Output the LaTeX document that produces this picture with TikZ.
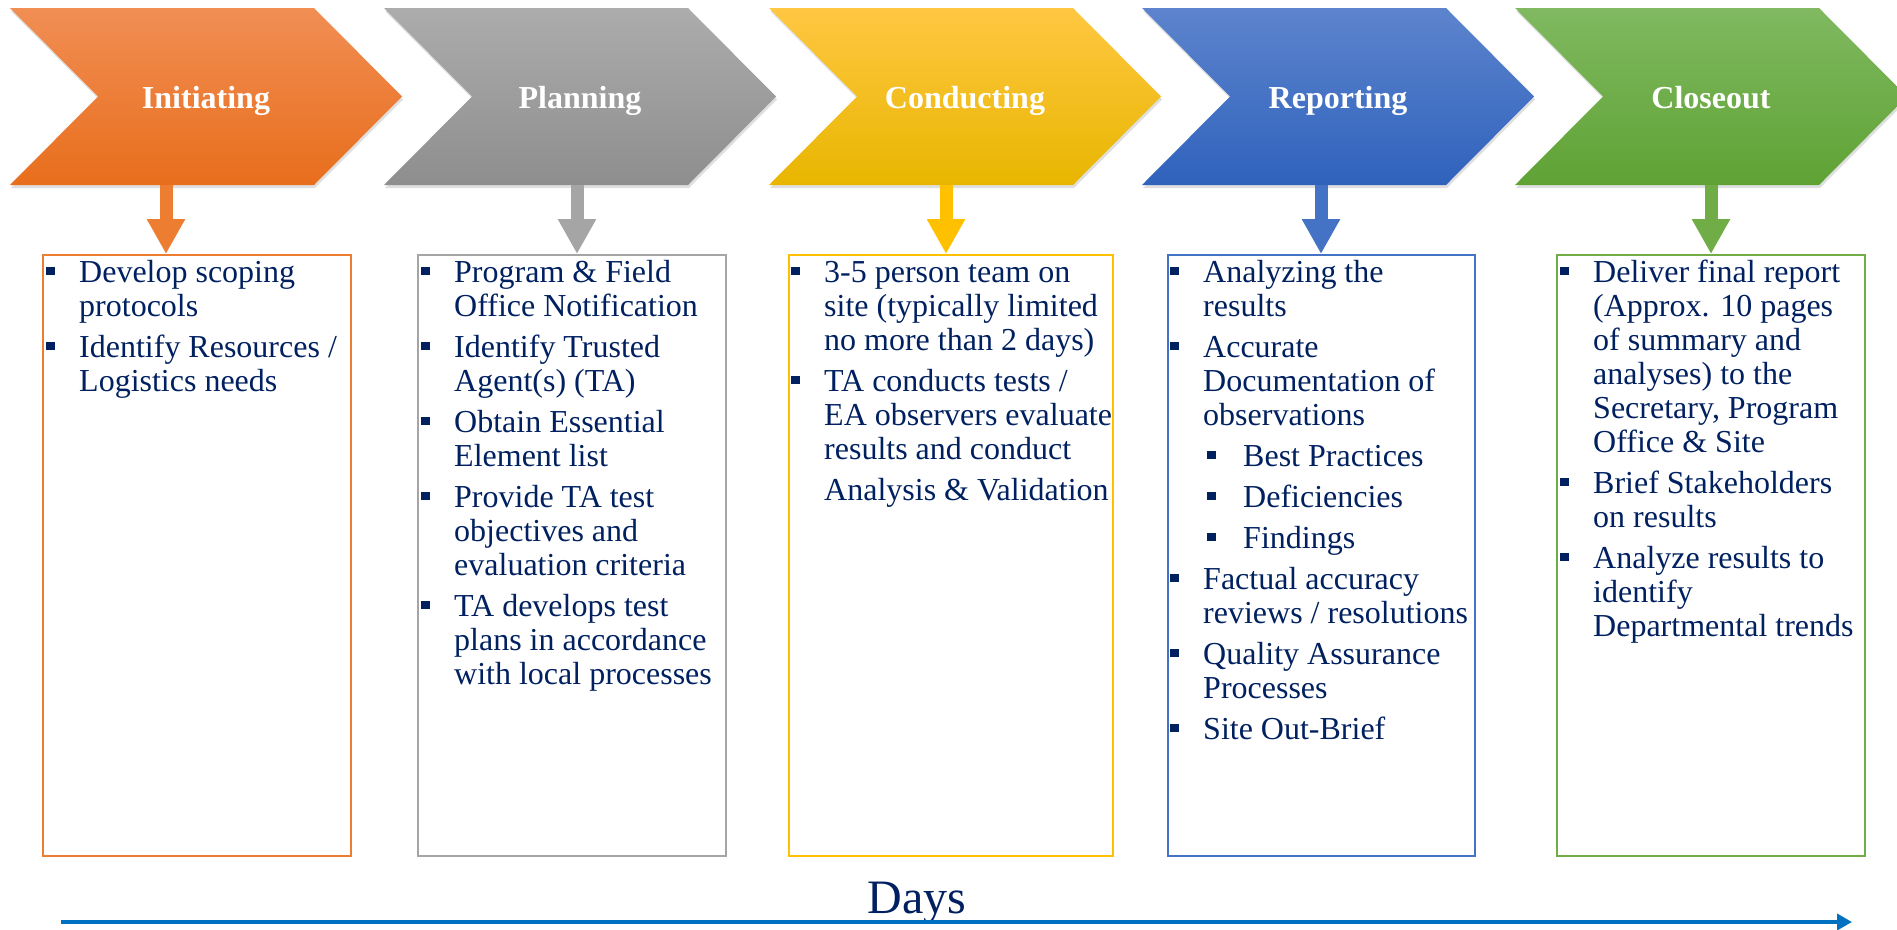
\documentclass[tikz,border=0pt]{standalone}
\usepackage{fontspec}
\setmainfont{Liberation Serif}
\usetikzlibrary{arrows.meta,shadows,calc}
\definecolor{navy}{RGB}{0,32,96}
\definecolor{orA}{RGB}{237,125,49}
\definecolor{grA}{RGB}{165,165,165}
\definecolor{goA}{RGB}{255,192,0}
\definecolor{blA}{RGB}{68,114,196}
\definecolor{gnA}{RGB}{112,173,71}
\definecolor{orT}{RGB}{241,142,84}\definecolor{orB}{RGB}{232,110,28}
\definecolor{grT}{RGB}{172,172,172}\definecolor{grB}{RGB}{142,142,142}
\definecolor{goT}{RGB}{255,199,66}\definecolor{goB}{RGB}{232,182,0}
\definecolor{blT}{RGB}{93,132,205}\definecolor{blB}{RGB}{47,98,188}
\definecolor{gnT}{RGB}{128,185,97}\definecolor{gnB}{RGB}{95,162,52}
\definecolor{dayblue}{RGB}{0,112,192}
\newcommand{\bsq}{\rule[7pt]{8.5pt}{8.5pt}}
\newcommand{\itm}{\par\hangindent=33pt\hangafter=1\noindent\makebox[33pt][l]{\bsq}}
\newcommand{\sitm}{\par\hangindent=73pt\hangafter=1\noindent\hspace*{37pt}\makebox[36pt][l]{\bsq}}
\newenvironment{blist}{\begin{minipage}[t]{340pt}\fontsize{32}{34}\selectfont\parindent=0pt\parskip=7pt}{\end{minipage}}
\tikzset{
  chev/.style={drop shadow={shadow xshift=1pt,shadow yshift=-3pt,opacity=0.25}},
  ttl/.style={anchor=base,text=white,font=\fontsize{32}{34}\selectfont\bfseries,inner sep=0pt},
  tbox/.style={draw,line width=1.5pt,inner sep=0pt,anchor=north west,minimum height=601pt},
  txt/.style={anchor=base west,inner sep=0pt,text=navy},
  blk/.style={line width=13pt,-{Triangle[width=36pt,length=35pt]}},
}
\begin{document}
\begin{tikzpicture}[x=1pt,y=-1pt]
\useasboundingbox (0,0) rectangle (1897,929);
\clip (0,0) rectangle (1897,929);
% chevrons
\foreach \L/\T/\B in {10/orT/orB,384/grT/grB,769/goT/goB,1142/blT/blB,1515/gnT/gnB}{
  \path[chev,top color=\T,bottom color=\B] (\L,8) -- (\L+304,8) -- (\L+392,96.5) -- (\L+304,185) -- (\L,185) -- (\L+88,96.5) -- cycle;
}
\node[ttl] (t1) at (206,108) {Initiating};
\node[ttl] (t2) at (580,108) {Planning};
\node[ttl] (t3) at (965,108) {Conducting};
\node[ttl] (t4) at (1338,108) {Reporting};
\node[ttl] (t5) at (1711,108) {Closeout};
% boxes
\node[tbox,draw=orA,minimum width=308pt] (b1) at (42,254) {};
\node[tbox,draw=grA,minimum width=308pt] (b2) at (417,254) {};
\node[tbox,draw=goA,minimum width=324pt] (b3) at (788,254) {};
\node[tbox,draw=blA,minimum width=307pt] (b4) at (1167,254) {};
\node[tbox,draw=gnA,minimum width=308pt] (b5) at (1556,254) {};
% arrows
\coordinate (c1) at (166,185);
\coordinate (c2) at (577,185);
\coordinate (c3) at (946,185);
\coordinate (c4) at (1321,185);
\coordinate (c5) at (1711,185);
\draw[blk,orA] (c1) -- (c1 |- b1.north);
\draw[blk,grA] (c2) -- (c2 |- b2.north);
\draw[blk,goA] (c3) -- (c3 |- b3.north);
\draw[blk,blA] (c4) -- (c4 |- b4.north);
\draw[blk,gnA] (c5) -- (c5 |- b5.north);
% texts
\node[txt] (x1) at (46,282) {\begin{blist}
\itm Develop scoping\\protocols
\itm Identify Resources /\\Logistics needs
\end{blist}};
\node[txt] (x2) at (421,282) {\begin{blist}
\itm Program \& Field\\Office Notification
\itm Identify Trusted\\Agent(s) (TA)
\itm Obtain Essential\\Element list
\itm Provide TA test\\objectives and\\evaluation criteria
\itm TA develops test\\plans in accordance\\with local processes
\end{blist}};
\node[txt] (x3) at (791,282) {\begin{blist}
\itm 3-5 person team on\\site (typically limited\\no more than 2 days)
\itm TA conducts tests /\\EA observers evaluate\\results and conduct\\[7pt]Analysis \& Validation
\end{blist}};
\node[txt] (x4) at (1170,282) {\begin{blist}
\itm Analyzing the\\results
\itm Accurate\\Documentation of\\observations
\sitm Best Practices
\sitm Deficiencies
\sitm Findings
\itm Factual accuracy\\reviews / resolutions
\itm Quality Assurance\\Processes
\itm Site Out-Brief
\end{blist}};
\node[txt] (x5) at (1560,282) {\begin{blist}
\itm Deliver final report\\(Approx. 10 pages\\of summary and\\analyses) to the\\Secretary, Program\\Office \& Site
\itm Brief Stakeholders\\on results
\itm Analyze results to\\identify\\Departmental trends
\end{blist}};
% days
\node[anchor=base,inner sep=0pt,text=navy,font=\fontsize{48}{50}\selectfont] (days) at (917,913) {Days};
\coordinate (ds) at (61,922);
\coordinate (de) at (1852,922);
\draw[dayblue,line width=4pt,-{Triangle[width=16pt,length=15pt]}] (ds) -- (de);
\end{tikzpicture}
\end{document}
